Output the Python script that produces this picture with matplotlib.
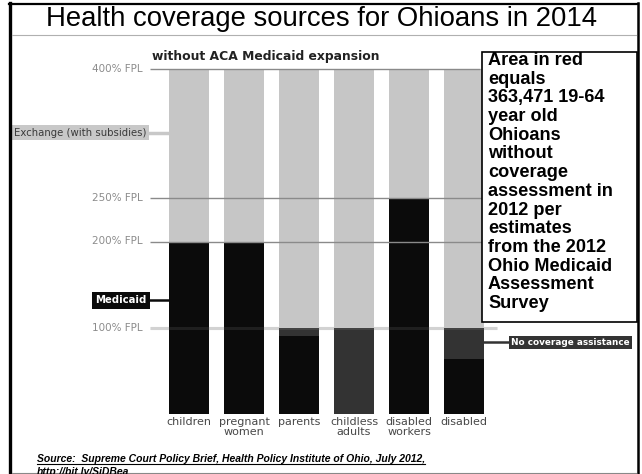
import numpy as np
import matplotlib.pyplot as plt
from matplotlib.lines import Line2D
from matplotlib.patches import Rectangle

# eligibility thresholds by group, in % of the federal poverty level
categories = ['children', 'pregnant\nwomen', 'parents', 'childless\nadults',
              'disabled\nworkers', 'disabled']
medicaid = [200, 200, 90, 0, 250, 64]
no_coverage = [0, 0, 10, 100, 0, 36]
exchange = [200, 200, 300, 300, 150, 300]

fpl_ticks = [400, 250, 200, 100]
fpl_labels = ['400% FPL', '250% FPL', '200% FPL', '100% FPL']

note_lines = ['Area in red', 'equals', '363,471 19-64', 'year old', 'Ohioans',
              'without', 'coverage', 'assessment in', '2012 per', 'estimates',
              'from the 2012', 'Ohio Medicaid', 'Assessment', 'Survey']

W, H = 642, 474


def fx(x):
    return x / W


def fy(y):
    return 1 - y / H


fig = plt.figure(figsize=(W / 100, H / 100), dpi=100)
ax = fig.add_axes([fx(150), fy(414), fx(497) - fx(150), fy(69) - fy(414)])
ax.set_xlim(-0.709, 5.6)
ax.set_ylim(0, 400)
ax.axis('off')

x = np.arange(len(categories))
bw = 0.71
c_med, c_none, c_exch = '#0b0b0b', '#333333', '#c6c6c6'
ax.bar(x, medicaid, bw, color=c_med, zorder=2)
ax.bar(x, no_coverage, bw, bottom=medicaid, color=c_none, zorder=2)
ax.bar(x, exchange, bw, bottom=np.add(medicaid, no_coverage), color=c_exch, zorder=2)

# FPL reference lines
ax.hlines(400, -0.709, 5.29, color='#8a8a8a', lw=1, zorder=3, clip_on=False)
ax.hlines([250, 200], -0.709, 5.6, color='#8a8a8a', lw=1, zorder=3, clip_on=False)
ax.hlines(100, -0.709, 5.6, color='#d2d2d2', lw=2.2, zorder=1, clip_on=False)
ax.hlines(100, -0.709, 5.6, color='#d2d2d2', lw=2.2, alpha=0.1, zorder=3, clip_on=False)

for v, lab in zip(fpl_ticks, fpl_labels):
    ax.text(-0.836, v, lab, ha='right', va='center', fontsize=7.5,
            color='#8c8c8c', clip_on=False)

for xi, lab in zip(x, categories):
    ax.text(xi, -4, lab, ha='center', va='top', fontsize=8, color='#484848',
            linespacing=0.9, clip_on=False)

# legend-style callouts
left_edge = -bw / 2
ax.plot([-0.709, left_edge], [326, 326], color='#c8c8c8', lw=2.5, clip_on=False, zorder=1)
ax.text(-0.765, 326, 'Exchange (with subsidies)', ha='right', va='center', fontsize=7.3,
        color='#3a3a3a', clip_on=False,
        bbox=dict(boxstyle='square,pad=0.25', fc='#c8c8c8', ec='none'))

ax.plot([-0.709, left_edge], [132, 132], color=c_med, lw=1.8, clip_on=False, zorder=1)
ax.text(-0.77, 132, 'Medicaid', ha='right', va='center', fontsize=7.3,
        color='white', fontweight='bold', clip_on=False,
        bbox=dict(boxstyle='square,pad=0.35', fc=c_med, ec='none'))

ax.plot([5 + bw / 2, 5.8], [83, 83], color=c_none, lw=1.8, clip_on=False, zorder=1)
ax.text(5.85, 83, 'No coverage assistance', ha='left', va='center', fontsize=6.4,
        color='white', fontweight='bold', clip_on=False,
        bbox=dict(boxstyle='square,pad=0.25', fc=c_none, ec='none'))

# titles
fig.text(fx(321), fy(19), 'Health coverage sources for Ohioans in 2014', ha='center',
         va='center', fontsize=19.8, family='Liberation Sans')
fig.text(fx(152), fy(60), 'without ACA Medicaid expansion', ha='left', va='baseline',
         fontsize=8.9, fontweight='bold', color='#222222')

# note box
fig.add_artist(Rectangle((fx(482), fy(322)), fx(637) - fx(482), fy(52) - fy(322),
                         transform=fig.transFigure, fc='white', ec='black', lw=1.2, zorder=5))
fig.text(fx(488), fy(52), '\n'.join(note_lines), ha='left', va='top', fontsize=13.1,
         family='Liberation Sans', fontweight='bold', linespacing=1.13, zorder=6)

# source
src = fig.text(fx(37), fy(462), 'Source:  Supreme Court Policy Brief, Health Policy Institute of Ohio, July 2012,',
               ha='left', va='baseline', fontsize=7.5, family='Liberation Sans',
               fontweight='bold', style='italic')
fig.text(fx(37), fy(475), 'http://bit.ly/SiDBea', ha='left', va='baseline', fontsize=7.5,
         family='Liberation Sans', fontweight='bold', style='italic')
fig.canvas.draw()
bb = src.get_window_extent().transformed(fig.transFigure.inverted())
fig.add_artist(Line2D([bb.x0, bb.x1], [fy(464)] * 2, color='black', lw=0.8,
                      transform=fig.transFigure))

# frame
fig.add_artist(Line2D([fx(10.5)] * 2, [fy(3), 0], color='black', lw=2.4, transform=fig.transFigure))
fig.add_artist(Line2D([fx(9), fx(638)], [fy(4)] * 2, color='black', lw=1.6, transform=fig.transFigure))
fig.add_artist(Line2D([fx(637.5)] * 2, [fy(3), 0], color='black', lw=1.8, transform=fig.transFigure))
fig.add_artist(Line2D([fx(12), fx(636)], [fy(34.5)] * 2, color='#b0b0b0', lw=0.8, transform=fig.transFigure))
fig.add_artist(Line2D([fx(12), fx(636)], [fy(472.5)] * 2, color='#888888', lw=0.8, transform=fig.transFigure))

fig.savefig('out.png', dpi=100)
